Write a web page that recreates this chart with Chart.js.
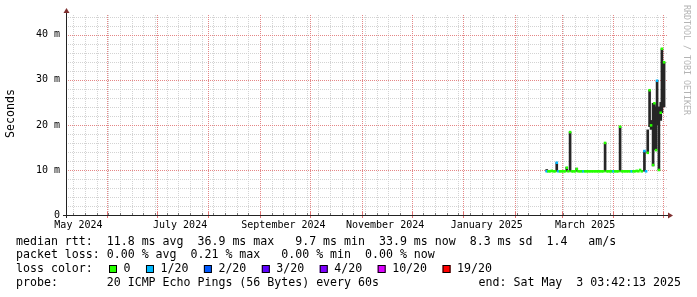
<!DOCTYPE html>
<html>
<head>
<meta charset="UTF-8">
<title>Smokeping median rtt</title>
<script src="https://cdn.jsdelivr.net/npm/chart.js@4.4.1/dist/chart.umd.min.js"></script>
<style>
	html, body { margin: 0; padding: 0; background: #fff; }
</style>
</head>
<body>
	<canvas id="myChart" width="697" height="297"></canvas>
	<script>
	// time axis: days since 1 June 2024
	var xMin = -23.85, xMax = 336.15;
	var monthStarts = [0, 30, 61, 92, 122, 153, 183, 214, 245, 273, 304, 334];
	var firstSunday = -20;
	var labelDays = [-17, 44, 106, 167, 228, 287];
	var labelText = ['May 2024', 'July 2024', 'September 2024', 'November 2024', 'January 2025', 'March 2025'];

	// value axis in ms
	var yMax = 44.4;
	var yLabelValues = [0, 10, 20, 30, 40];
	var yLabelText = ['0', '10 m', '20 m', '30 m', '40 m'];

	// measurements
	var days = [
		264, 265, 266, 267, 268, 269, 270, 271, 272, 273, 274, 275, 276, 277, 278, 279,
		280, 281, 282, 283, 284, 285, 286, 287, 288, 289, 290, 291, 292, 293, 294, 295,
		296, 297, 298, 299, 300, 301, 302, 303, 304, 305, 306, 307, 308, 309, 310, 311,
		312, 313, 314, 315, 316, 317, 318, 319, 320, 321,
		322.6, 323.6, 324.6, 325.7, 326.6, 327.8, 328.6, 329.6, 330.2, 331.3, 332.4, 333.1, 334.4
	];
	var medianMs = [
		9.7, 9.7, 9.7, 9.8, 9.7, 9.7, 11.6, 9.7, 9.7, 9.7, 9.7, 9.7, 10.5, 9.7, 18.4, 9.7,
		9.7, 9.7, 10.2, 9.7, 9.7, 9.7, 9.7, 9.7, 9.7, 9.7, 9.7, 9.7, 9.7, 9.7, 9.7, 9.7,
		9.7, 9.7, 9.7, 16.0, 9.7, 9.7, 9.7, 9.7, 9.7, 9.7, 9.7, 9.7, 19.6, 9.7, 9.7, 9.7,
		9.7, 9.7, 9.7, 9.7, 9.7, 9.7, 9.8, 9.7, 10.0, 9.7,
		14.2, 9.7, 13.8, 27.7, 19.9, 11.1, 24.8, 14.4, 29.8, 10.0, 22.7, 36.9, 33.9
	];
	var smokeLowMs = [
		9.7, null, null, null, null, null, 9.7, null, null, null, null, null, 9.7, null, 9.7, null,
		null, null, 9.7, null, null, null, null, null, null, null, null, null, null, null, null, null,
		null, null, null, 9.7, null, null, null, null, null, null, null, null, 9.7, null, null, null,
		null, null, null, null, null, null, null, null, null, null,
		9.7, null, 13.8, 19.6, 19.0, 10.9, 14.5, 14.4, 20.0, 10.0, 21.0, 22.7, 24.0
	];
	var smokeHighMs = [
		10.1, null, null, null, null, null, 11.6, null, null, null, null, null, 10.6, null, 18.4, null,
		null, null, 10.4, null, null, null, null, null, null, null, null, null, null, null, null, null,
		null, null, null, 16.0, null, null, null, null, null, null, null, null, 19.6, null, null, null,
		null, null, null, null, null, null, null, null, null, null,
		14.2, null, 18.9, 27.7, 21.0, 24.8, 24.8, 24.0, 29.8, 24.0, 25.0, 36.9, 33.9
	];
	var lossLevel = [
		1, 0, 0, 0, 0, 0, 1, 1, 0, 0, 0, 0, 0, 0, 0, 0,
		0, 0, 0, 0, 0, 0, 1, 0, 0, 0, 0, 0, 0, 0, 0, 0,
		0, 0, 0, 0, 0, 0, 0, 0, 1, 0, 0, 0, 0, 0, 0, 0,
		0, 0, 0, 1, 0, 0, 0, 0, 0, 0,
		1, 1, 0, 0, 0, 0, 0, 0, 1, 0, 0, 0, 0
	];

	var lossColors = ['#26ff00', '#00b8ff', '#0059ff', '#5e00ff', '#7e00ff', '#dd00ff', '#ff0000'];
	var lossNames = ['0', '1/20', '2/20', '3/20', '4/20', '10/20', '19/20'];

	var legendLines = [
		'median rtt:  11.8 ms avg  36.9 ms max   9.7 ms min  33.9 ms now  8.3 ms sd  1.4   am/s',
		'packet loss: 0.00 % avg  0.21 % max   0.00 % min  0.00 % now',
		'loss color:',
		'probe:       20 ICMP Echo Pings (56 Bytes) every 60s'
	];
	var endText = 'end: Sat May  3 03:42:13 2025';

	var MONO = '"DejaVu Sans Mono", "Liberation Mono", monospace';
	var gridColor = '#d3d3d3';
	var mgridColor = '#e48686';

	function buildXTicks() {
		var t = [];
		for (var w = firstSunday; w <= xMax; w += 7) t.push({ value: w, kind: 'minor' });
		monthStarts.forEach(function (m) { t.push({ value: m, kind: 'major' }); });
		labelDays.forEach(function (d, i) { t.push({ value: d, kind: 'label', text: labelText[i] }); });
		return t.filter(function (k) { return k.value >= xMin && k.value <= xMax; });
	}

	function buildYTicks() {
		var t = [];
		for (var v = 0; v <= yMax; v += 2) t.push({ value: v });
		return t;
	}

	var smokeData = [];
	days.forEach(function (d, i) {
		if (smokeLowMs[i] != null) smokeData.push({ x: d, y: [smokeLowMs[i], smokeHighMs[i]] });
	});
	var medianData = days.map(function (d, i) { return { x: d, y: medianMs[i] }; });

	// dotted rrdtool style grid, placed from the chart's scales
	var rrdGrid = {
		id: 'rrdGrid',
		beforeDatasetsDraw: function (chart) {
			var ctx = chart.ctx, a = chart.chartArea;
			var xs = chart.scales.x, ys = chart.scales.y;
			ctx.save();
			['minor', 'major'].forEach(function (pass) {
				ys.ticks.forEach(function (t) {
					if (t.value === 0) return;
					var major = t.value % 10 === 0;
					if ((pass === 'major') !== major) return;
					var py = Math.round(ys.getPixelForValue(t.value));
					ctx.fillStyle = major ? mgridColor : gridColor;
					for (var px = a.left + 1; px < a.right; px += 2) ctx.fillRect(px, py, 1, 1);
				});
				xs.ticks.forEach(function (t) {
					if (t.kind !== pass) return;
					var px = Math.round(xs.getPixelForValue(t.value));
					ctx.fillStyle = pass === 'major' ? mgridColor : gridColor;
					for (var py = a.top; py < a.bottom; py += 2) ctx.fillRect(px, py, 1, 1);
				});
			});
			ctx.restore();
		}
	};

	var rrdFrame = {
		id: 'rrdFrame',
		afterDraw: function (chart) {
			var ctx = chart.ctx, a = chart.chartArea;
			var xs = chart.scales.x;
			ctx.save();

			// small ticks on the time axis
			xs.ticks.forEach(function (t) {
				if (t.kind === 'label') return;
				var px = Math.round(xs.getPixelForValue(t.value)) + 0.5;
				ctx.beginPath();
				if (t.kind === 'major') {
					ctx.strokeStyle = '#e07070';
					ctx.moveTo(px, a.bottom - 3); ctx.lineTo(px, a.bottom + 3);
				} else {
					ctx.strokeStyle = '#777';
					ctx.moveTo(px, a.bottom - 2); ctx.lineTo(px, a.bottom);
				}
				ctx.stroke();
			});

			// axes
			ctx.strokeStyle = '#222';
			ctx.lineWidth = 1;
			ctx.beginPath();
			ctx.moveTo(a.left - 4, a.bottom + 0.5); ctx.lineTo(a.right + 2, a.bottom + 0.5);
			ctx.moveTo(a.left - 0.5, a.bottom + 3); ctx.lineTo(a.left - 0.5, a.top - 3);
			ctx.stroke();

			// arrows
			ctx.fillStyle = '#7f3030';
			ctx.beginPath();
			ctx.moveTo(a.left - 0.5, a.top - 7);
			ctx.lineTo(a.left - 3.5, a.top - 2);
			ctx.lineTo(a.left + 2.5, a.top - 2);
			ctx.fill();
			ctx.beginPath();
			ctx.moveTo(a.right + 6, a.bottom + 0.5);
			ctx.lineTo(a.right + 1, a.bottom - 2.5);
			ctx.lineTo(a.right + 1, a.bottom + 3.5);
			ctx.fill();

			// y axis title
			ctx.fillStyle = '#000';
			ctx.font = '11.6px ' + MONO;
			ctx.textBaseline = 'middle';
			ctx.save();
			ctx.translate(10.5, 113.5);
			ctx.rotate(-Math.PI / 2);
			ctx.textAlign = 'center';
			ctx.fillText('Seconds', 0, 0);
			ctx.restore();

			// watermark
			ctx.save();
			ctx.translate(686.5, 5);
			ctx.rotate(Math.PI / 2);
			ctx.textAlign = 'left';
			ctx.font = '8.3px ' + MONO;
			ctx.fillStyle = '#b4b4b4';
			ctx.fillText('RRDTOOL / TOBI OETIKER', 0, 0);
			ctx.restore();

			// legend block
			ctx.textAlign = 'left';
			var lineY = [241.5, 255.3, 269, 282.7];
			legendLines.forEach(function (s, i) { ctx.fillText(s, 16, lineY[i]); });
			ctx.textAlign = 'right';
			ctx.fillText(endText, 681, lineY[3]);
			ctx.textAlign = 'left';

			var sx = 109;
			lossNames.forEach(function (n, i) {
				ctx.fillStyle = lossColors[i];
				ctx.fillRect(sx, 265, 8, 8);
				ctx.strokeStyle = '#000';
				ctx.strokeRect(sx + 0.5, 265.5, 7, 7);
				ctx.fillStyle = '#000';
				var tx = sx + 14.5;
				ctx.fillText(n, tx, lineY[2]);
				sx = tx + ctx.measureText(n).width + 15.5;
			});
			ctx.restore();
		}
	};

	var ctx = document.getElementById('myChart').getContext('2d');
	var chart = new Chart(ctx, {
		type: 'bar',
		data: {
			datasets: [{
				type: 'line',
				data: medianData,
				showLine: false,
				pointStyle: 'rect',
				pointRadius: 1.8,
				pointBorderWidth: 0,
				pointBackgroundColor: function (c) { return lossColors[lossLevel[c.dataIndex]]; },
				order: 1
			}, {
				type: 'bar',
				data: smokeData,
				backgroundColor: '#262626',
				borderWidth: 0,
				barThickness: 2,
				grouped: false,
				order: 2
			}]
		},
		options: {
			responsive: false,
			animation: false,
			devicePixelRatio: 1,
			layout: { padding: { top: 15, right: 30, left: 0, bottom: 0 } },
			plugins: { legend: { display: false }, tooltip: { enabled: false } },
			scales: {
				x: {
					type: 'linear',
					min: xMin,
					max: xMax,
					offset: false,
					afterBuildTicks: function (s) { s.ticks = buildXTicks(); },
					afterFit: function (s) { s.height = 82; },
					grid: { display: false, drawTicks: false, offset: false },
					border: { display: false },
					ticks: {
						autoSkip: false,
						maxRotation: 0,
						padding: 4,
						color: '#000',
						font: { family: MONO, size: 10 },
						callback: function (v, i, t) { return t[i].text || ''; }
					}
				},
				y: {
					min: 0,
					max: yMax,
					afterBuildTicks: function (s) { s.ticks = buildYTicks(); },
					afterFit: function (s) { s.width = 67; },
					grid: { display: false, drawTicks: false },
					border: { display: false },
					ticks: {
						autoSkip: false,
						padding: 7,
						color: '#000',
						font: { family: MONO, size: 10 },
						callback: function (v) {
							var k = yLabelValues.indexOf(v);
							return k >= 0 ? yLabelText[k] : '';
						}
					}
				}
			}
		},
		plugins: [rrdGrid, rrdFrame]
	});
	</script>
</body>
</html>
